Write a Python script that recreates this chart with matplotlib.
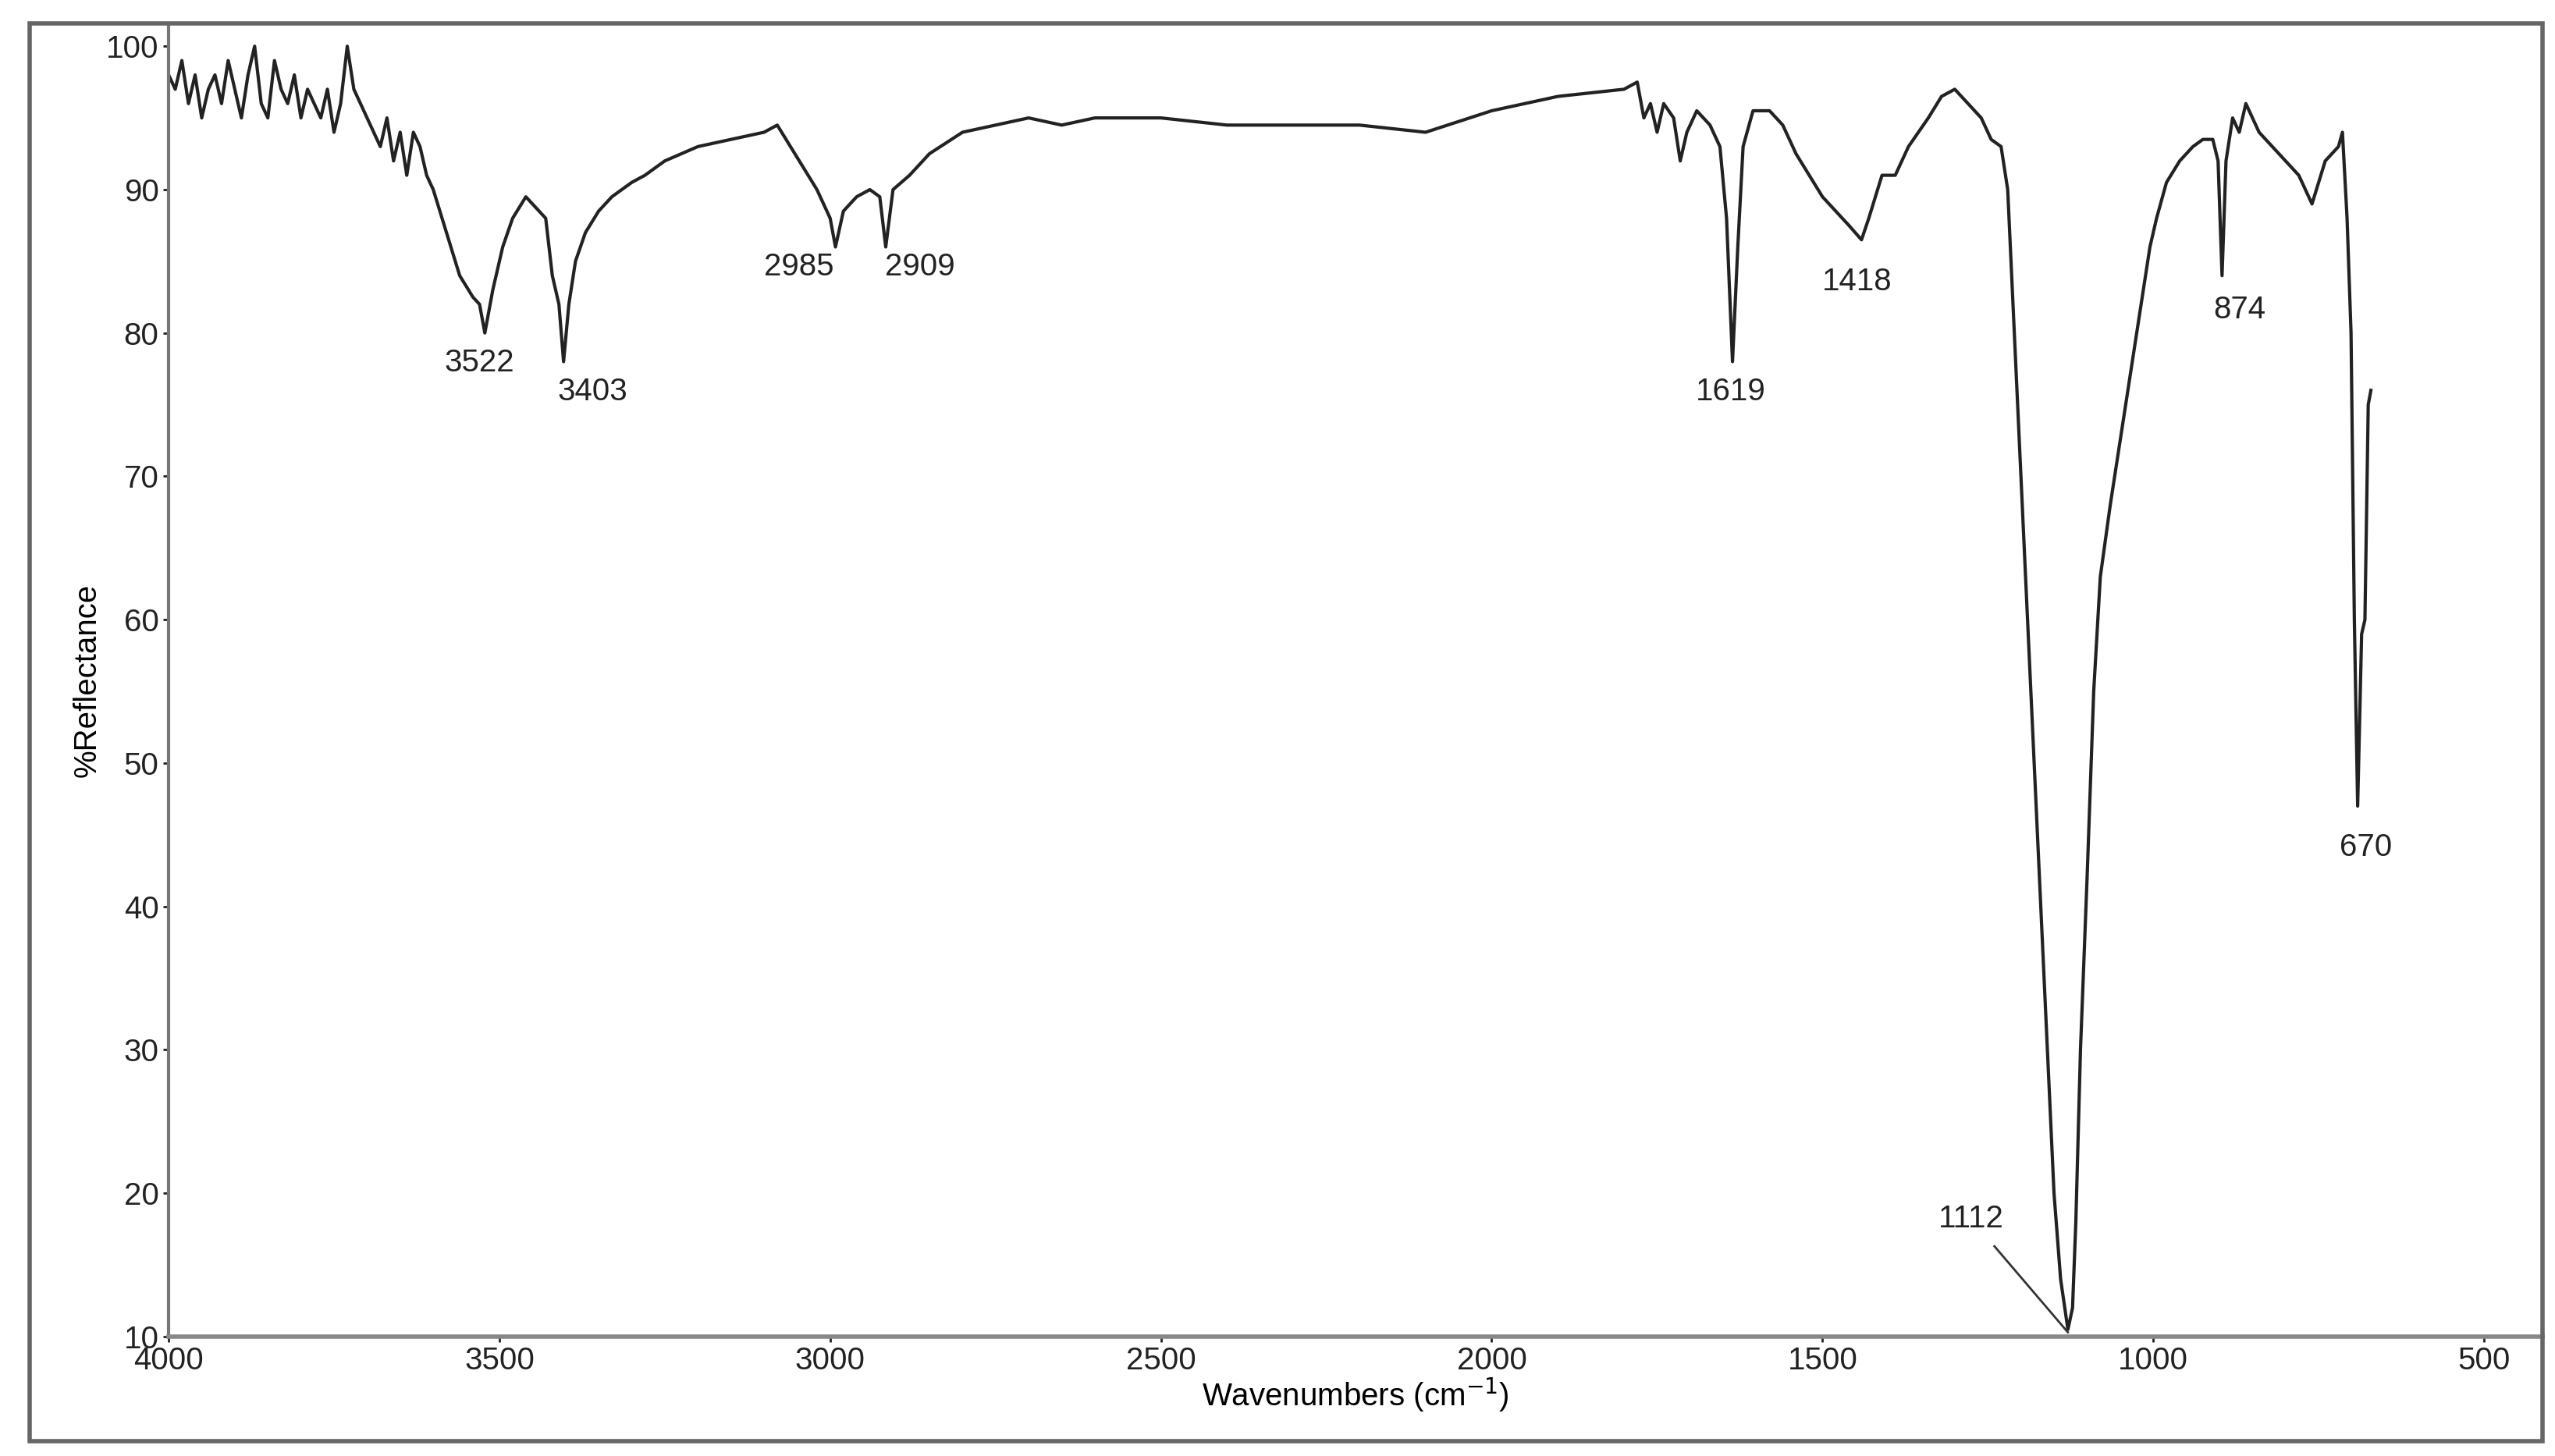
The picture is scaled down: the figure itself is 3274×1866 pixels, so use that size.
import matplotlib
matplotlib.use("Agg")
import matplotlib.pyplot as plt
from matplotlib.patches import Rectangle

wavenumber = [4000,3990,3980,3970,3960,3950,3940,3930,3920,3910,3900,3890,3880,3870,3860,3850,3840,3830,3820,3810,
              3800,3790,3780,3770,3760,3750,3740,3730,3720,3710,3700,3690,3680,3670,3660,3650,3640,3630,3620,3610,
              3600,3580,3560,3540,3530,3522,3510,3495,3480,3460,3450,3440,3430,3420,3410,3403,3395,3385,3370,3350,
              3330,3300,3280,3250,3200,3150,3100,3080,3060,3040,3020,3000,2992,2980,2960,2940,2925,2916,2905,2880,
              2850,2800,2750,2700,2650,2600,2500,2400,2300,2200,2100,2000,1900,1800,1780,1770,1760,1750,1740,1725,
              1715,1705,1690,1670,1655,1645,1636,1628,1620,1605,1580,1560,1540,1520,1500,1480,1460,1441,1430,1410,
              1390,1370,1340,1320,1300,1280,1260,1245,1230,1220,1210,1200,1190,1180,1170,1160,1150,1140,1129,1122,
              1117,1110,1100,1090,1080,1065,1055,1045,1035,1025,1015,1005,995,980,960,940,925,910,902,896,
              890,880,870,860,840,820,800,780,770,760,740,720,714,707,701,696,691,685,680,675,671]
reflectance = [98,97,99,96,98,95,97,98,96,99,97,95,98,100,96,95,99,97,96,98,
               95,97,96,95,97,94,96,100,97,96,95,94,93,95,92,94,91,94,93,91,
               90,87,84,82.5,82,80,83,86,88,89.5,89,88.5,88,84,82,78,82,85,87,88.5,
               89.5,90.5,91,92,93,93.5,94,94.5,93,91.5,90,88,86,88.5,89.5,90,89.5,86,90,91,
               92.5,94,94.5,95,94.5,95,95,94.5,94.5,94.5,94,95.5,96.5,97,97.5,95,96,94,96,95,
               92,94,95.5,94.5,93,88,78,86,93,95.5,95.5,94.5,92.5,91,89.5,88.5,87.5,86.5,88,91,
               91,93,95,96.5,97,96,95,93.5,93,90,80,70,60,50,40,30,20,14,10.5,12,
               18,30,42,55,63,68,71,74,77,80,83,86,88,90.5,92,93,93.5,93.5,92,84,
               92,95,94,96,94,93,92,91,90,89,92,93,94,88,80,60,47,59,60,75,76]

peak_labels = ["3522","3403","2985","2909","1619","1418","874","670","1112"]
label_x = [3530,3359,3047,2864,1639,1448,869,679,1275]
label_y = [77.9,75.9,84.6,84.6,75.9,83.6,81.6,44.1,18.2]

plt.rcParams['font.family'] = ['Liberation Sans', 'DejaVu Sans']
fig = plt.figure(figsize=(32.74, 18.66), dpi=100)
ax = fig.add_axes([0.066, 0.082, 0.929, 0.902])
ax.plot(wavenumber, reflectance, color='#222222', lw=3)
ax.set_xlim(4000, 412)
ax.set_ylim(10, 101.6)
ax.set_xticks([4000,3500,3000,2500,2000,1500,1000,500])
ax.set_yticks(range(10, 101, 10))
ax.tick_params(labelsize=29, length=5, width=2, colors='#222222', pad=4)
for s in ['top', 'right']:
    ax.spines[s].set_visible(False)
ax.spines['left'].set_linestyle((0, (2, 1)))
ax.spines['left'].set_color('#777777')
ax.spines['left'].set_linewidth(3)
ax.spines['bottom'].set_color('#888888')
ax.spines['bottom'].set_linewidth(4)
for t, x, y in zip(peak_labels, label_x, label_y):
    ax.text(x, y, t, fontsize=29, ha='center', va='center', color='#222222')
ax.plot([1240, 1129], [16.3, 10.3], color='#333333', lw=2)
ax.set_xlabel('Wavenumbers (cm$^{-1}$)', fontsize=29, labelpad=0)
ax.set_ylabel('%Reflectance', fontsize=29, labelpad=4)
fig.patches.append(Rectangle((0.0115, 0.01), 0.9835, 0.974, transform=fig.transFigure,
                             fill=False, ec='#666666', lw=4))
fig.savefig('out.png', dpi=100)
